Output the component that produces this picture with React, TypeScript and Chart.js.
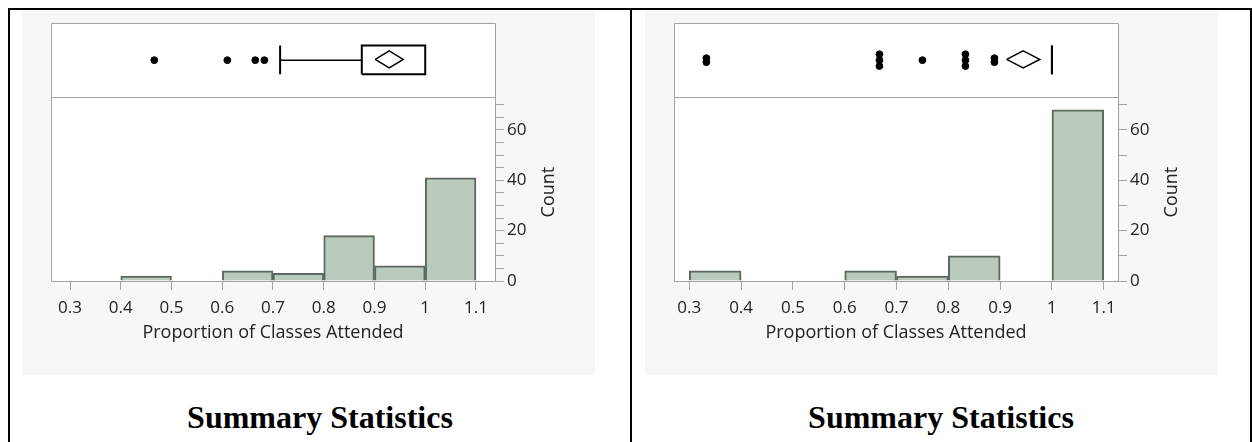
import React, { useEffect, useRef } from "react";
import { Chart, registerables } from "chart.js";

Chart.register(...registerables);

// ---------------- data ----------------
const X_TICKS = [0.3, 0.4, 0.5, 0.6, 0.7, 0.8, 0.9, 1.0, 1.1];
const X_TICK_LABELS = ["0.3", "0.4", "0.5", "0.6", "0.7", "0.8", "0.9", "1", "1.1"];
const LEFT_Y_TICKS = [0, 5, 10, 15, 20, 25, 30, 35, 40, 45, 50, 55, 60, 65, 70];
const LEFT_Y_TICK_LABELS = ["0", "", "", "", "20", "", "", "", "40", "", "", "", "60", "", ""];
const RIGHT_Y_TICKS = [0, 10, 20, 30, 40, 50, 60, 70];
const RIGHT_Y_TICK_LABELS = ["0", "", "20", "", "40", "", "60", ""];

const BIN_STARTS = [0.3, 0.4, 0.5, 0.6, 0.7, 0.8, 0.9, 1.0];
const BIN_WIDTH = 0.1;
const LEFT_COUNTS = [0, 2, 0, 4, 3, 18, 6, 41];
const RIGHT_COUNTS = [4, 0, 0, 4, 2, 10, 0, 68];

const LEFT_X_RANGE = [0.2625, 1.1375];
const RIGHT_X_RANGE = [0.2705, 1.1275];
const COUNT_MAX = 73;

// box plot summaries: [lower whisker, Q1, Q3]
const LEFT_BOX = [0.714, 0.875, 1.0];
const RIGHT_BOX = [1.0, 1.0, 1.0];
// mean diamond: [mean, half-width of confidence interval]
const LEFT_MEAN = [0.929, 0.0276];
const RIGHT_MEAN = [0.9445, 0.032];
// outliers and how many coincide at each value
const LEFT_OUTLIERS = [0.466, 0.61, 0.665, 0.683];
const LEFT_OUTLIER_STACK = [1, 1, 1, 1];
const RIGHT_OUTLIERS = [0.333, 0.667, 0.75, 0.833, 0.889];
const RIGHT_OUTLIER_STACK = [2, 3, 1, 3, 2];

const X_TITLE = "Proportion of Classes Attended";
const Y_TITLE = "Count";
const CAPTION = "Summary Statistics";

// ---------------- styles / layout ----------------
const FONT = "'Open Sans', 'Noto Sans', sans-serif";
const TEXT = "#222222";
const AXIS_GRAY = "#a3a3a3";
const PANEL_BG = "#f7f7f7";
const BAR_FILL = "rgb(186,202,188)";
const BAR_EDGE = "#5d685e";
const BAND = [0.31, 0.7];
const BAND_CENTER = 0.5;
const DIAMOND_CENTER = 0.51;
const DIAMOND_HALF = 0.115;
const STACK_STEP: Record<number, number> = { 1: 0, 2: 0.055, 3: 0.08 };

type PanelProps = {
  left: number;
  counts: number[];
  xRange: number[];
  yTicks: number[];
  yTickLabels: string[];
  box: number[];
  mean: number[];
  outliers: number[];
  stacks: number[];
};

function Panel({ left, counts, xRange, yTicks, yTickLabels, box, mean, outliers, stacks }: PanelProps) {
  const ref = useRef<HTMLCanvasElement | null>(null);

  useEffect(() => {
    const canvas = ref.current;
    if (!canvas) return;

    const bars = BIN_STARTS.map((b, i) => ({ x: b + BIN_WIDTH / 2, y: counts[i] }))
      .filter((d) => d.y > 0);

    const points: { x: number; y: number }[] = [];
    outliers.forEach((v, i) => {
      const n = stacks[i];
      const step = STACK_STEP[n] ?? 0.07;
      for (let k = 0; k < n; k++) {
        points.push({ x: v, y: BAND_CENTER + (k - (n - 1) / 2) * step });
      }
    });

    const [lo, q1, q3] = box;
    const [m, hw] = mean;

    const lineDs = (data: { x: number; y: number }[], width: number) => ({
      type: "line" as const,
      data,
      xAxisID: "x",
      yAxisID: "yBox",
      borderColor: "#000",
      borderWidth: width,
      pointRadius: 0,
      fill: false,
      tension: 0,
      order: 0,
    });

    const framePlugin = {
      id: "frame",
      beforeDraw(chart: any) {
        const { ctx, chartArea: a } = chart;
        ctx.save();
        ctx.fillStyle = "#ffffff";
        ctx.fillRect(a.left, a.top, a.right - a.left, a.bottom - a.top);
        ctx.restore();
      },
      beforeDatasetsDraw(chart: any) {
        const { ctx, chartArea: a } = chart;
        const yb = chart.scales.yBox;
        const L = Math.round(a.left) + 0.5;
        const R = Math.round(a.right) + 0.5;
        const T = Math.round(a.top) + 0.5;
        const B = Math.round(a.bottom) + 0.5;
        const D = Math.round(yb.bottom) + 0.5;
        ctx.save();
        ctx.strokeStyle = AXIS_GRAY;
        ctx.lineWidth = 1;
        ctx.beginPath();
        ctx.rect(L, T, R - L, B - T);
        ctx.moveTo(L, D);
        ctx.lineTo(R, D);
        ctx.stroke();
        ctx.restore();
      },
      afterDraw(chart: any) {
        const { ctx } = chart;
        const y = chart.scales.y;
        ctx.save();
        ctx.fillStyle = TEXT;
        ctx.font = `18px ${FONT}`;
        ctx.textAlign = "center";
        ctx.textBaseline = "middle";
        ctx.translate(y.right - 46, (y.top + y.bottom) / 2 + 3);
        ctx.rotate(-Math.PI / 2);
        ctx.fillText(Y_TITLE, 0, 0);
        ctx.restore();
      },
    };

    const chart = new Chart(canvas, {
      type: "bar",
      data: {
        datasets: [
          {
            type: "bar",
            data: bars,
            xAxisID: "x",
            yAxisID: "y",
            backgroundColor: BAR_FILL,
            borderColor: BAR_EDGE,
            borderWidth: 2,
            barPercentage: 1,
            categoryPercentage: 1,
            order: 2,
          } as any,
          lineDs([{ x: lo, y: BAND_CENTER }, { x: q1, y: BAND_CENTER }], 1.5),
          lineDs([{ x: lo, y: BAND[0] }, { x: lo, y: BAND[1] }], 2),
          lineDs(
            [
              { x: q1, y: BAND[0] },
              { x: q3, y: BAND[0] },
              { x: q3, y: BAND[1] },
              { x: q1, y: BAND[1] },
              { x: q1, y: BAND[0] },
            ],
            2
          ),
          lineDs(
            [
              { x: m - hw, y: DIAMOND_CENTER },
              { x: m, y: DIAMOND_CENTER + DIAMOND_HALF },
              { x: m + hw, y: DIAMOND_CENTER },
              { x: m, y: DIAMOND_CENTER - DIAMOND_HALF },
              { x: m - hw, y: DIAMOND_CENTER },
            ],
            1.5
          ),
          {
            type: "scatter",
            data: points,
            xAxisID: "x",
            yAxisID: "yBox",
            backgroundColor: "#000",
            borderColor: "#000",
            borderWidth: 1,
            pointRadius: 3.4,
            order: 0,
          } as any,
        ],
      },
      options: {
        responsive: false,
        animation: false,
        devicePixelRatio: 1,
        layout: { padding: { left: 29, top: 13, right: 0, bottom: 0 } },
        plugins: { legend: { display: false }, tooltip: { enabled: false } },
        scales: {
          x: {
            type: "linear",
            min: xRange[0],
            max: xRange[1],
            offset: false,
            afterBuildTicks: (s: any) => {
              s.ticks = X_TICKS.map((v) => ({ value: v }));
            },
            afterFit: (s: any) => {
              s.height = 94;
            },
            ticks: {
              autoSkip: false,
              maxRotation: 0,
              padding: 8,
              color: TEXT,
              font: { family: FONT, size: 17 },
              callback: (_v: any, i: number) => X_TICK_LABELS[i],
            },
            grid: {
              display: true,
              drawOnChartArea: false,
              drawTicks: true,
              tickLength: 9,
              color: AXIS_GRAY,
              offset: false,
            },
            border: { display: false },
            title: {
              display: true,
              text: X_TITLE,
              color: TEXT,
              font: { family: FONT, size: 18 },
              padding: { top: 0, bottom: 31 },
            },
          },
          yBox: {
            type: "linear",
            position: "right",
            stack: "v",
            stackWeight: 74,
            min: 0,
            max: 1,
            ticks: { display: false },
            grid: { display: false },
            border: { display: false },
            afterFit: (s: any) => {
              s.width = 100;
            },
          },
          y: {
            type: "linear",
            position: "right",
            stack: "v",
            stackWeight: 184,
            min: 0,
            max: COUNT_MAX,
            afterBuildTicks: (s: any) => {
              s.ticks = yTicks.map((v) => ({ value: v }));
            },
            afterFit: (s: any) => {
              s.width = 100;
            },
            ticks: {
              autoSkip: false,
              padding: 3,
              color: TEXT,
              font: { family: FONT, size: 17 },
              callback: (_v: any, i: number) => yTickLabels[i],
            },
            grid: {
              display: true,
              drawOnChartArea: false,
              drawTicks: true,
              tickLength: 9,
              color: AXIS_GRAY,
            },
            border: { display: false },
          },
        },
      } as any,
      plugins: [framePlugin],
    });

    return () => chart.destroy();
  }, []);

  return (
    <>
      <div
        style={{
          position: "absolute",
          left,
          top: 10,
          width: 573,
          height: 365,
          background: PANEL_BG,
        }}
      />
      <canvas
        ref={ref}
        width={573}
        height={365}
        style={{ position: "absolute", left, top: 10, width: 573, height: 365 }}
      />
    </>
  );
}

function Caption({ left, width }: { left: number; width: number }) {
  return (
    <div
      style={{
        position: "absolute",
        left,
        top: 401,
        width,
        textAlign: "center",
        fontFamily: "'Liberation Serif', 'Times New Roman', serif",
        fontWeight: "bold",
        fontSize: 32,
        lineHeight: "32px",
        color: "#000",
        whiteSpace: "nowrap",
      }}
    >
      {CAPTION}
    </div>
  );
}

export default function App() {
  const line = (l: number, t: number, w: number, h: number) => (
    <div style={{ position: "absolute", left: l, top: t, width: w, height: h, background: "#000" }} />
  );
  return (
    <div style={{ position: "absolute", left: 0, top: 0, width: 1252, height: 442, overflow: "hidden", background: "#fff" }}>
      <Panel
        left={22}
        counts={LEFT_COUNTS}
        xRange={LEFT_X_RANGE}
        yTicks={LEFT_Y_TICKS}
        yTickLabels={LEFT_Y_TICK_LABELS}
        box={LEFT_BOX}
        mean={LEFT_MEAN}
        outliers={LEFT_OUTLIERS}
        stacks={LEFT_OUTLIER_STACK}
      />
      <Panel
        left={645}
        counts={RIGHT_COUNTS}
        xRange={RIGHT_X_RANGE}
        yTicks={RIGHT_Y_TICKS}
        yTickLabels={RIGHT_Y_TICK_LABELS}
        box={RIGHT_BOX}
        mean={RIGHT_MEAN}
        outliers={RIGHT_OUTLIERS}
        stacks={RIGHT_OUTLIER_STACK}
      />
      <Caption left={10} width={620} />
      <Caption left={632} width={618} />
      {line(8, 8, 1244, 2)}
      {line(8, 8, 2, 434)}
      {line(630, 8, 2, 434)}
      {line(1250, 8, 2, 434)}
    </div>
  );
}
